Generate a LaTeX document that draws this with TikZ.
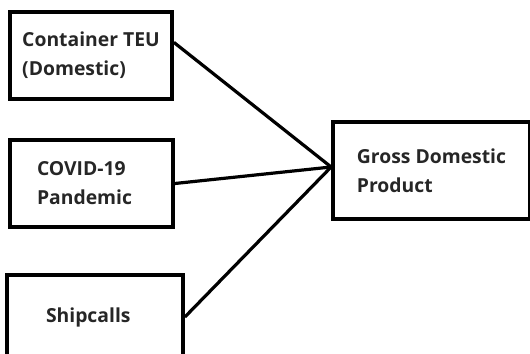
\documentclass[tikz,border=0pt]{standalone}
\usepackage{fontspec}
\setmainfont{Open Sans}

\begin{document}
\begin{tikzpicture}[x=0.75pt,y=0.75pt,yscale=-1,xscale=1,
  box/.style={draw,rectangle,line width=2.8pt,inner sep=0pt,text=black!85,
    font=\bfseries\fontsize{14.5}{21.75}\selectfont},
  link/.style={line width=2.4pt}]
\useasboundingbox (0,0) rectangle (530,353);

%Box: Container TEU
\node [box,minimum width=121.5pt,minimum height=65.25pt,align=left] (teu) at (91,55.5) {Container TEU\\(Domestic)};
%Box: COVID-19
\node [box,minimum width=122.25pt,minimum height=65.25pt,text width=81.75pt,align=left] (covid) at (91.5,183.5) {COVID-19\\Pandemic};
%Box: Shipcalls
\node [box,minimum width=132pt,minimum height=63pt,text width=73.5pt,align=left] (ship) at (95,317) {Shipcalls};
%Box: GDP
\node [box,minimum width=147.75pt,minimum height=72.75pt,align=left] (gdp) at (431.5,170.5) {Gross Domestic\\Product};

%Straight Lines
\draw [link] (teu.9) -- (gdp.178);
\draw [link] (covid.east) -- (gdp.178);
\draw [link] (ship.east) -- (gdp.178);

\end{tikzpicture}
\end{document}
